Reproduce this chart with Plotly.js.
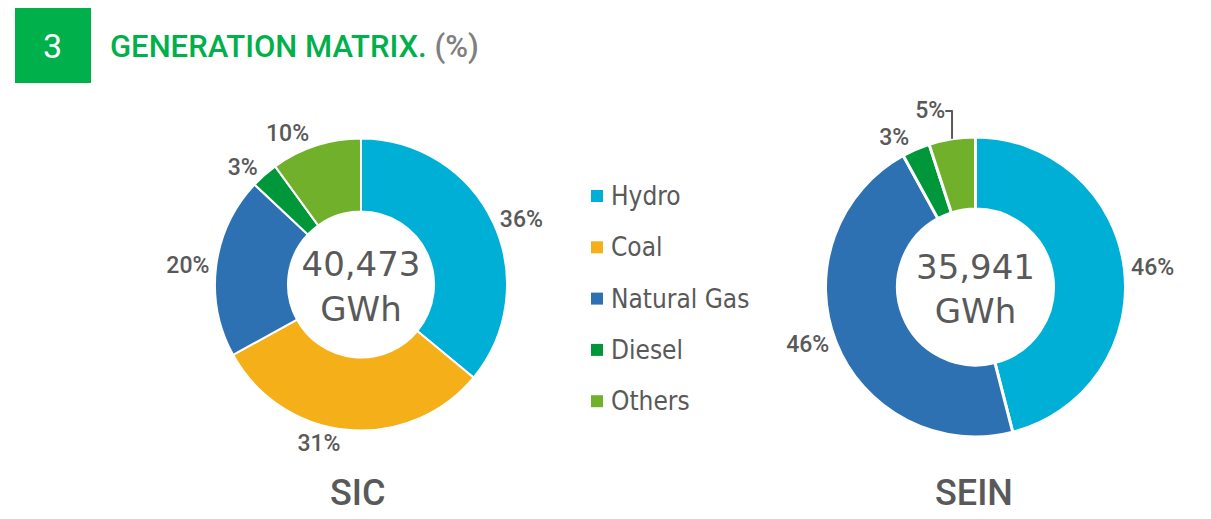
<!DOCTYPE html>
<html>
<head>
<meta charset="utf-8">
<script src="https://cdn.plot.ly/plotly-3.0.1.min.js"></script>
<style>
html,body{margin:0;padding:0;background:#fff;}
#chart{width:1211px;height:519px;}
</style>
</head>
<body>
<div id="chart"></div>
<script>
// ---- data ----
const categories = ["Hydro", "Coal", "Natural Gas", "Diesel", "Others"];
const colors = ["#00AFD5", "#F5B019", "#2E71B3", "#00963A", "#70B02A"];
const sicValues = [36, 31, 20, 3, 10];
const seinCategories = ["Hydro", "Natural Gas", "Diesel", "Others"];
const seinValues = [46, 46, 3, 5];
const sicTotal = "40,473";
const seinTotal = "35,941";
const unit = "GWh";
const systemNames = ["SIC", "SEIN"];
const sectionNumber = "3";
const titleText = "GENERATION MATRIX.";
const titleUnit = "(%)";

const W = 1211, H = 519;
const px = x => x / W;
const py = y => 1 - y / H;
const gray = "#595959";

function colorFor(list) { return list.map(c => colors[categories.indexOf(c)]); }

const labelFont = {family: "Roboto", size: 23, color: gray, weight: 500};
const centerFont = {family: "DejaVu Sans", size: 34, color: gray};

const traces = [
  {
    type: "pie", labels: categories, values: sicValues,
    marker: {colors: colorFor(categories), line: {color: "#fff", width: 2}},
    hole: 0.5, sort: false, direction: "clockwise", rotation: 0,
    textposition: "outside", texttemplate: "%{value}%",
    textfont: labelFont, outsidetextfont: labelFont,
    title: {text: sicTotal + "<br>" + unit, position: "middle center", font: centerFont},
    domain: {x: [px(215), px(507)], y: [py(430.5), py(138.5)]},
    showlegend: false, hoverinfo: "label+percent"
  },
  {
    type: "pie", labels: seinCategories, values: seinValues,
    marker: {colors: colorFor(seinCategories), line: {color: "#fff", width: 3}},
    hole: 0.52, sort: false, direction: "clockwise", rotation: 0,
    textposition: "outside", texttemplate: "%{value}%",
    textfont: labelFont, outsidetextfont: labelFont,
    title: {text: seinTotal + "<br>" + unit, position: "middle center", font: centerFont},
    domain: {x: [px(825.5), px(1125.5)], y: [py(437), py(137)]},
    showlegend: false, hoverinfo: "label+percent"
  }
];

const shapes = [
  {type: "rect", xref: "paper", yref: "paper", x0: px(15), x1: px(91), y0: py(83), y1: py(8),
   fillcolor: "#00B04A", line: {width: 0}}
];
const annotations = [
  {xref: "paper", yref: "paper", x: px(53), y: py(46), text: sectionNumber, showarrow: false,
   font: {family: "Roboto", size: 34, color: "#fff"}, xanchor: "center", yanchor: "middle"},
  {xref: "paper", yref: "paper", x: px(108), y: py(46),
   text: '<span style="color:#00B04A">' + titleText + '</span> <span style="color:#7F7F7F">' + titleUnit + '</span>',
   showarrow: false, font: {family: "Roboto", size: 31, color: "#00B04A", weight: 500}, xanchor: "left", yanchor: "middle"},
  {xref: "paper", yref: "paper", x: px(358), y: py(493), text: systemNames[0], showarrow: false,
   font: {family: "Roboto", size: 36, color: gray, weight: 500}, xanchor: "center", yanchor: "middle"},
  {xref: "paper", yref: "paper", x: px(974), y: py(493), text: systemNames[1], showarrow: false,
   font: {family: "Roboto", size: 36, color: gray, weight: 500}, xanchor: "center", yanchor: "middle"}
];

// custom legend rows
const legendTop = 196, legendStep = 51.3;
categories.forEach((c, i) => {
  const yc = legendTop + i * legendStep;
  shapes.push({type: "rect", xref: "paper", yref: "paper", x0: px(591), x1: px(603),
    y0: py(yc + 6), y1: py(yc - 6), fillcolor: colors[i], line: {width: 0}});
  annotations.push({xref: "paper", yref: "paper", x: px(609), y: py(yc), text: c, showarrow: false,
    font: {family: "DejaVu Sans Condensed, DejaVu Sans", size: 26, color: gray}, xanchor: "left", yanchor: "middle"});
});

const layout = {
  width: W, height: H, margin: {l: 0, r: 0, t: 0, b: 0},
  paper_bgcolor: "#fff", plot_bgcolor: "#fff",
  showlegend: false, shapes, annotations
};

Plotly.newPlot("chart", traces, layout, {displayModeBar: false, staticPlot: true});
</script>
</body>
</html>
